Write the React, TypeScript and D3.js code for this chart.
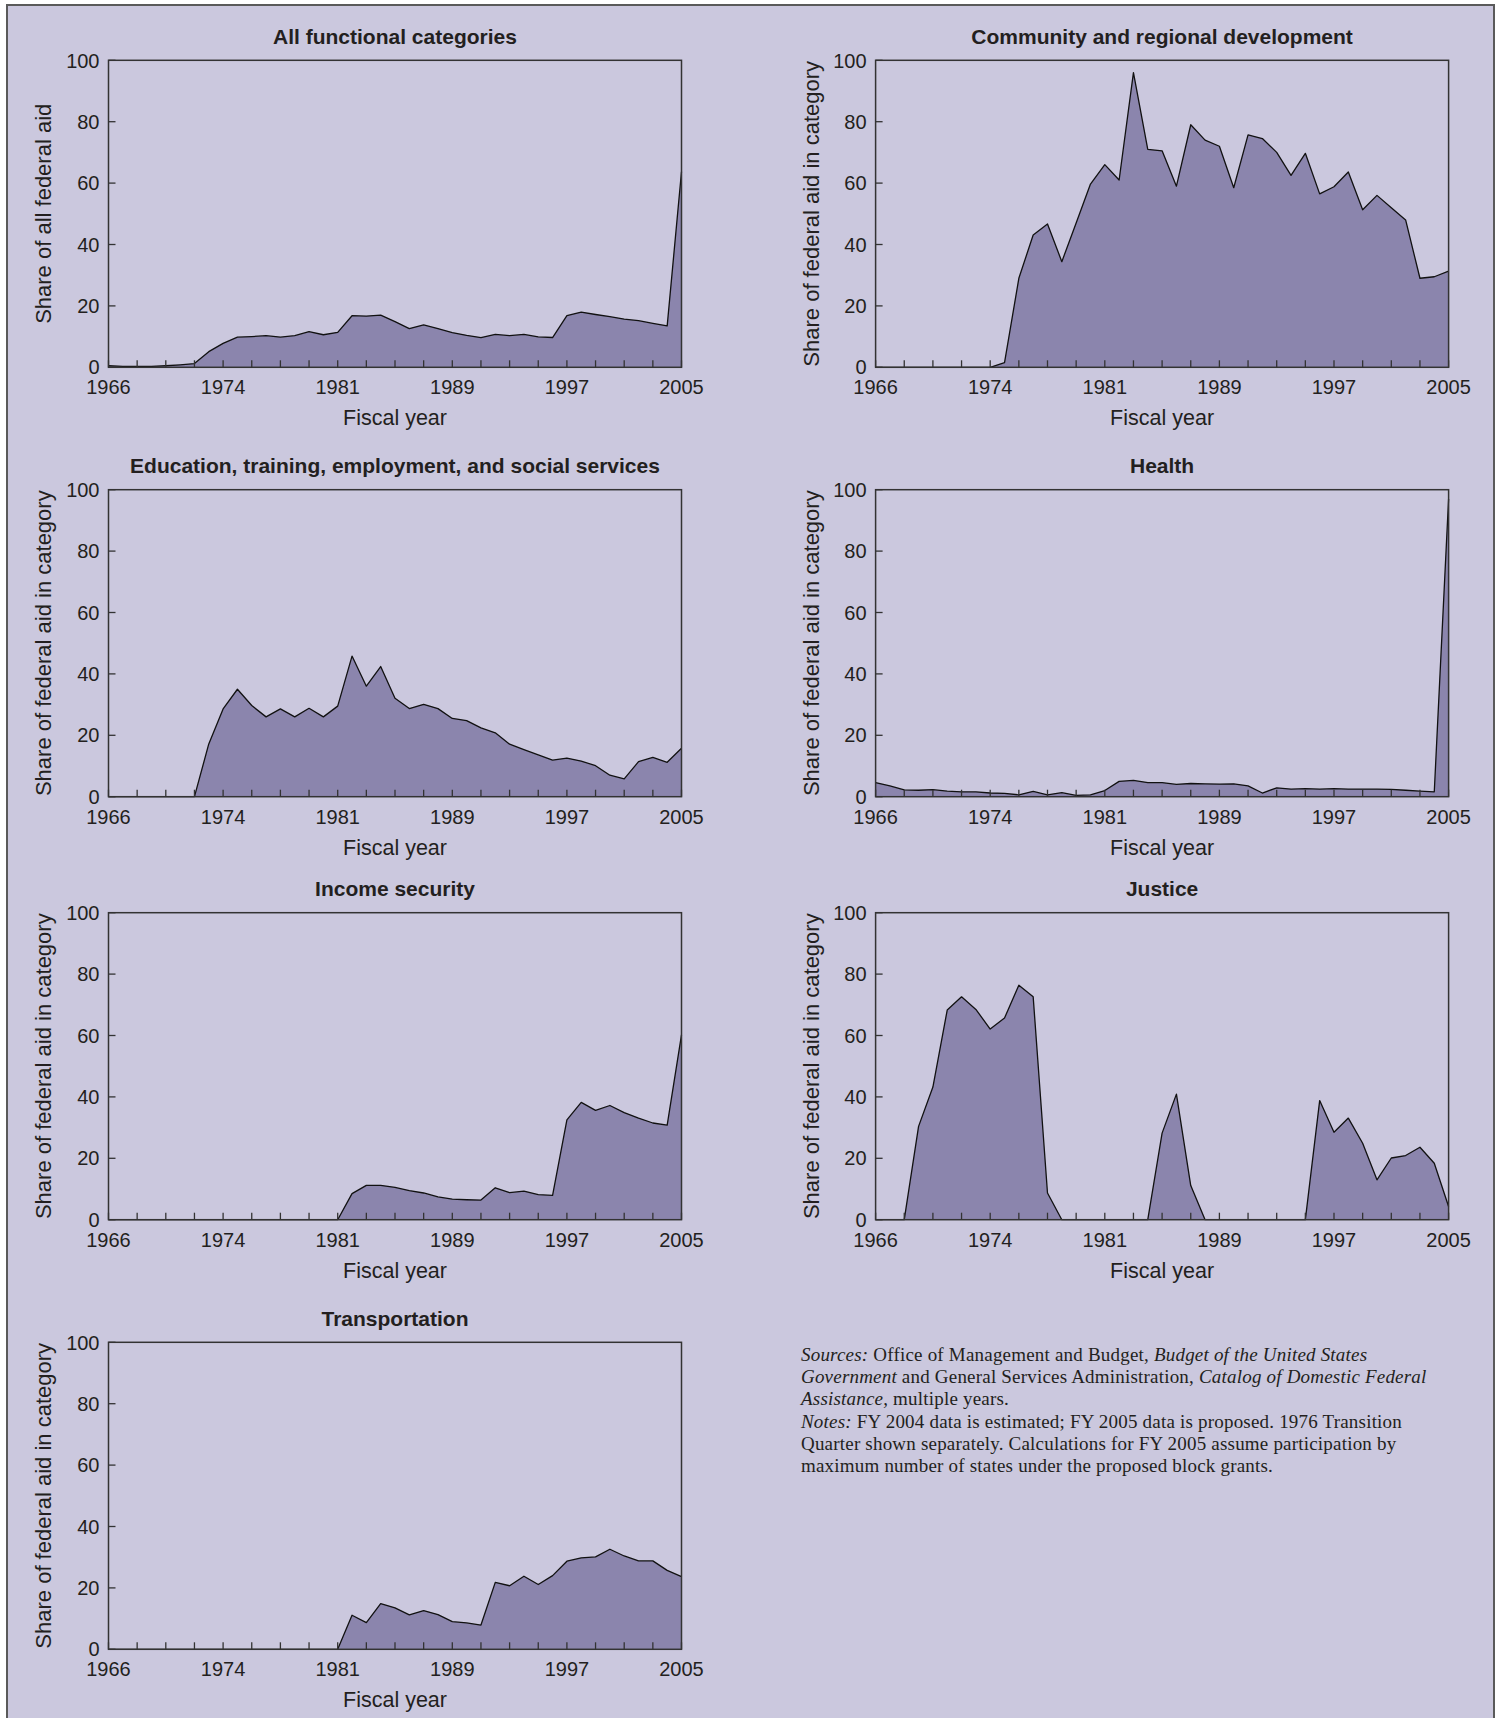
import React from 'react';
import * as d3 from 'd3';

// x positions are index based: 1966..1976, the 1976 transition quarter, then 1977..2005
const yearLabels = ['1966', '1974', '1981', '1989', '1997', '2005'];
const yearLabelIdx = [0, 8, 16, 24, 32, 40];
const yTicks = [0, 20, 40, 60, 80, 100];

const allCategories = [0.5, 0.3, 0.3, 0.3, 0.5, 0.8, 1.2, 5.1, 7.8, 9.8, 10.0, 10.3, 9.8, 10.3, 11.6, 10.6, 11.4, 16.8, 16.7, 17.0, 14.9, 12.6, 13.8, 12.6, 11.3, 10.4, 9.7, 10.7, 10.3, 10.7, 9.9, 9.7, 16.8, 18.0, 17.2, 16.5, 15.7, 15.2, 14.3, 13.5, 63.7];
const community = [0, 0, 0, 0, 0, 0, 0, 0, 0, 1.5, 29, 43.1, 46.7, 34.4, 47, 59.7, 66, 61, 96, 71, 70.5, 59, 79, 74, 72, 58.5, 75.7, 74.5, 70, 62.5, 69.7, 56.5, 58.8, 63.6, 51.3, 56, 52, 48, 29, 29.5, 31.3];
const education = [0, 0, 0, 0, 0, 0, 0, 17.2, 28.6, 35, 29.7, 26, 28.6, 26, 28.8, 26, 29.5, 45.8, 36, 42.4, 32.1, 28.7, 30.1, 28.7, 25.5, 24.8, 22.4, 20.8, 17.1, 15.3, 13.6, 11.9, 12.6, 11.6, 10.1, 7, 5.8, 11.4, 12.8, 11.2, 15.8];
const health = [4.6, 3.5, 2.2, 2.1, 2.3, 1.8, 1.6, 1.6, 1.2, 1.1, 0.6, 1.7, 0.6, 1.3, 0.4, 0.6, 2.0, 5.0, 5.3, 4.6, 4.6, 4.0, 4.3, 4.2, 4.1, 4.2, 3.5, 1.2, 2.9, 2.5, 2.6, 2.5, 2.6, 2.5, 2.5, 2.5, 2.4, 2.1, 1.8, 1.6, 97];
const income = [0, 0, 0, 0, 0, 0, 0, 0, 0, 0, 0, 0, 0, 0, 0, 0, 0, 8.5, 11.2, 11.2, 10.5, 9.5, 8.7, 7.4, 6.7, 6.5, 6.4, 10.4, 8.8, 9.3, 8.2, 7.9, 32.5, 38.2, 35.6, 37.2, 34.9, 33.1, 31.5, 30.8, 60.2];
const justice = [0, 0, 0, 30.4, 43.2, 68.3, 72.6, 68.5, 62.1, 65.7, 76.4, 72.6, 8.7, 0, 0, 0, 0, 0, 0, 0, 28.2, 40.9, 11.1, 0, 0, 0, 0, 0, 0, 0, 0, 38.8, 28.5, 33.1, 24.9, 13, 20.1, 20.9, 23.6, 18.4, 4.3];
const transportation = [0, 0, 0, 0, 0, 0, 0, 0, 0, 0, 0, 0, 0, 0, 0, 0, 0, 11.1, 8.7, 14.9, 13.5, 11.2, 12.6, 11.3, 9.0, 8.6, 7.9, 21.8, 20.7, 23.8, 21.1, 24.0, 28.7, 29.8, 30.1, 32.6, 30.4, 28.8, 28.8, 25.7, 23.7];

const titles = [
  'All functional categories',
  'Community and regional development',
  'Education, training, employment, and social services',
  'Health',
  'Income security',
  'Justice',
  'Transportation',
];
const series = [allCategories, community, education, health, income, justice, transportation];

const BG = '#cbc8de';
const FILL = '#8b85ad';
const INK = '#231f20';
const SANS = '"Liberation Sans", Arial, Helvetica, sans-serif';
const SERIF = '"Liberation Serif", "Times New Roman", serif';

const colLeft = [108.5, 875.6];
const rowTop = [60.3, 489.7, 912.7, 1342.3];
const W = 573;
const H = 307;

const x = d3.scaleLinear().domain([0, 40]).range([0, W]);
const y = d3.scaleLinear().domain([0, 100]).range([H, 0]);
const area = d3.area<number>().x((_, i) => x(i)).y0(y(0)).y1((d) => y(d));
const line = d3.line<number>().x((_, i) => x(i)).y((d) => y(d));
const minorTicks = d3.range(0, 41, 2);

function Panel({ title, values, left, top, yLabel }) {
  return (
    <g transform={`translate(${left},${top})`}>
      <text x={W / 2} y={-16.5} textAnchor="middle" fontFamily={SANS} fontWeight="bold" fontSize={21} fill={INK}>
        {title}
      </text>
      <path d={area(values)} fill={FILL} />
      <path d={line(values)} fill="none" stroke="#111" strokeWidth={1.3} strokeLinejoin="round" />
      <rect x={0} y={0} width={W} height={H} fill="none" stroke="#333" strokeWidth={1.5} />
      {minorTicks.map((t) => (
        <line key={t} x1={x(t)} x2={x(t)} y1={H} y2={H - 7} stroke="#333" strokeWidth={1.3} />
      ))}
      {yTicks.map((t) => (
        <g key={t}>
          <line x1={0} x2={7} y1={y(t)} y2={y(t)} stroke="#333" strokeWidth={1.3} />
          <text x={-9} y={y(t)} dy="0.36em" textAnchor="end" fontFamily={SANS} fontSize={20} fill={INK}>
            {t}
          </text>
        </g>
      ))}
      {yearLabels.map((l, i) => (
        <text key={l} x={x(yearLabelIdx[i])} y={H + 27} textAnchor="middle" fontFamily={SANS} fontSize={20} fill={INK}>
          {l}
        </text>
      ))}
      <text x={W / 2} y={H + 58} textAnchor="middle" fontFamily={SANS} fontSize={21.5} fill={INK}>
        Fiscal year
      </text>
      <text
        transform={`translate(-65,${H / 2}) rotate(-90)`}
        textAnchor="middle"
        dy="0.36em"
        fontFamily={SANS}
        fontSize={22}
        fill={INK}
      >
        {yLabel}
      </text>
    </g>
  );
}

const noteLines = [
  [['Sources:', true], [' Office of Management and Budget, ', false], ['Budget of the United States', true]],
  [['Government', true], [' and General Services Administration, ', false], ['Catalog of Domestic Federal', true]],
  [['Assistance,', true], [' multiple years.', false]],
  [['Notes:', true], [' FY 2004 data is estimated; FY 2005 data is proposed. 1976 Transition', false]],
  [['Quarter shown separately. Calculations for FY 2005 assume participation by', false]],
  [['maximum number of states under the proposed block grants.', false]],
];

export default function App() {
  return (
    <svg
      width={1497}
      height={1718}
      style={{ position: 'absolute', left: 0, top: 0, display: 'block', background: '#fff' }}
    >
      <rect x={7} y={5} width={1487} height={1720} fill={BG} stroke="#5a5a5a" strokeWidth={2} />
      {series.map((s, i) => (
        <Panel
          key={titles[i]}
          title={titles[i]}
          values={s}
          left={colLeft[i % 2]}
          top={rowTop[Math.floor(i / 2)]}
          yLabel={i === 0 ? 'Share of all federal aid' : 'Share of federal aid in category'}
        />
      ))}
      {noteLines.map((ln, k) => (
        <text key={k} x={801} y={1361 + k * 22.2} fontFamily={SERIF} fontSize={19} letterSpacing={0.2} fill={INK}>
          {ln.map(([t, it], j) => (
            <tspan key={j} fontStyle={it ? 'italic' : 'normal'}>
              {t}
            </tspan>
          ))}
        </text>
      ))}
    </svg>
  );
}
